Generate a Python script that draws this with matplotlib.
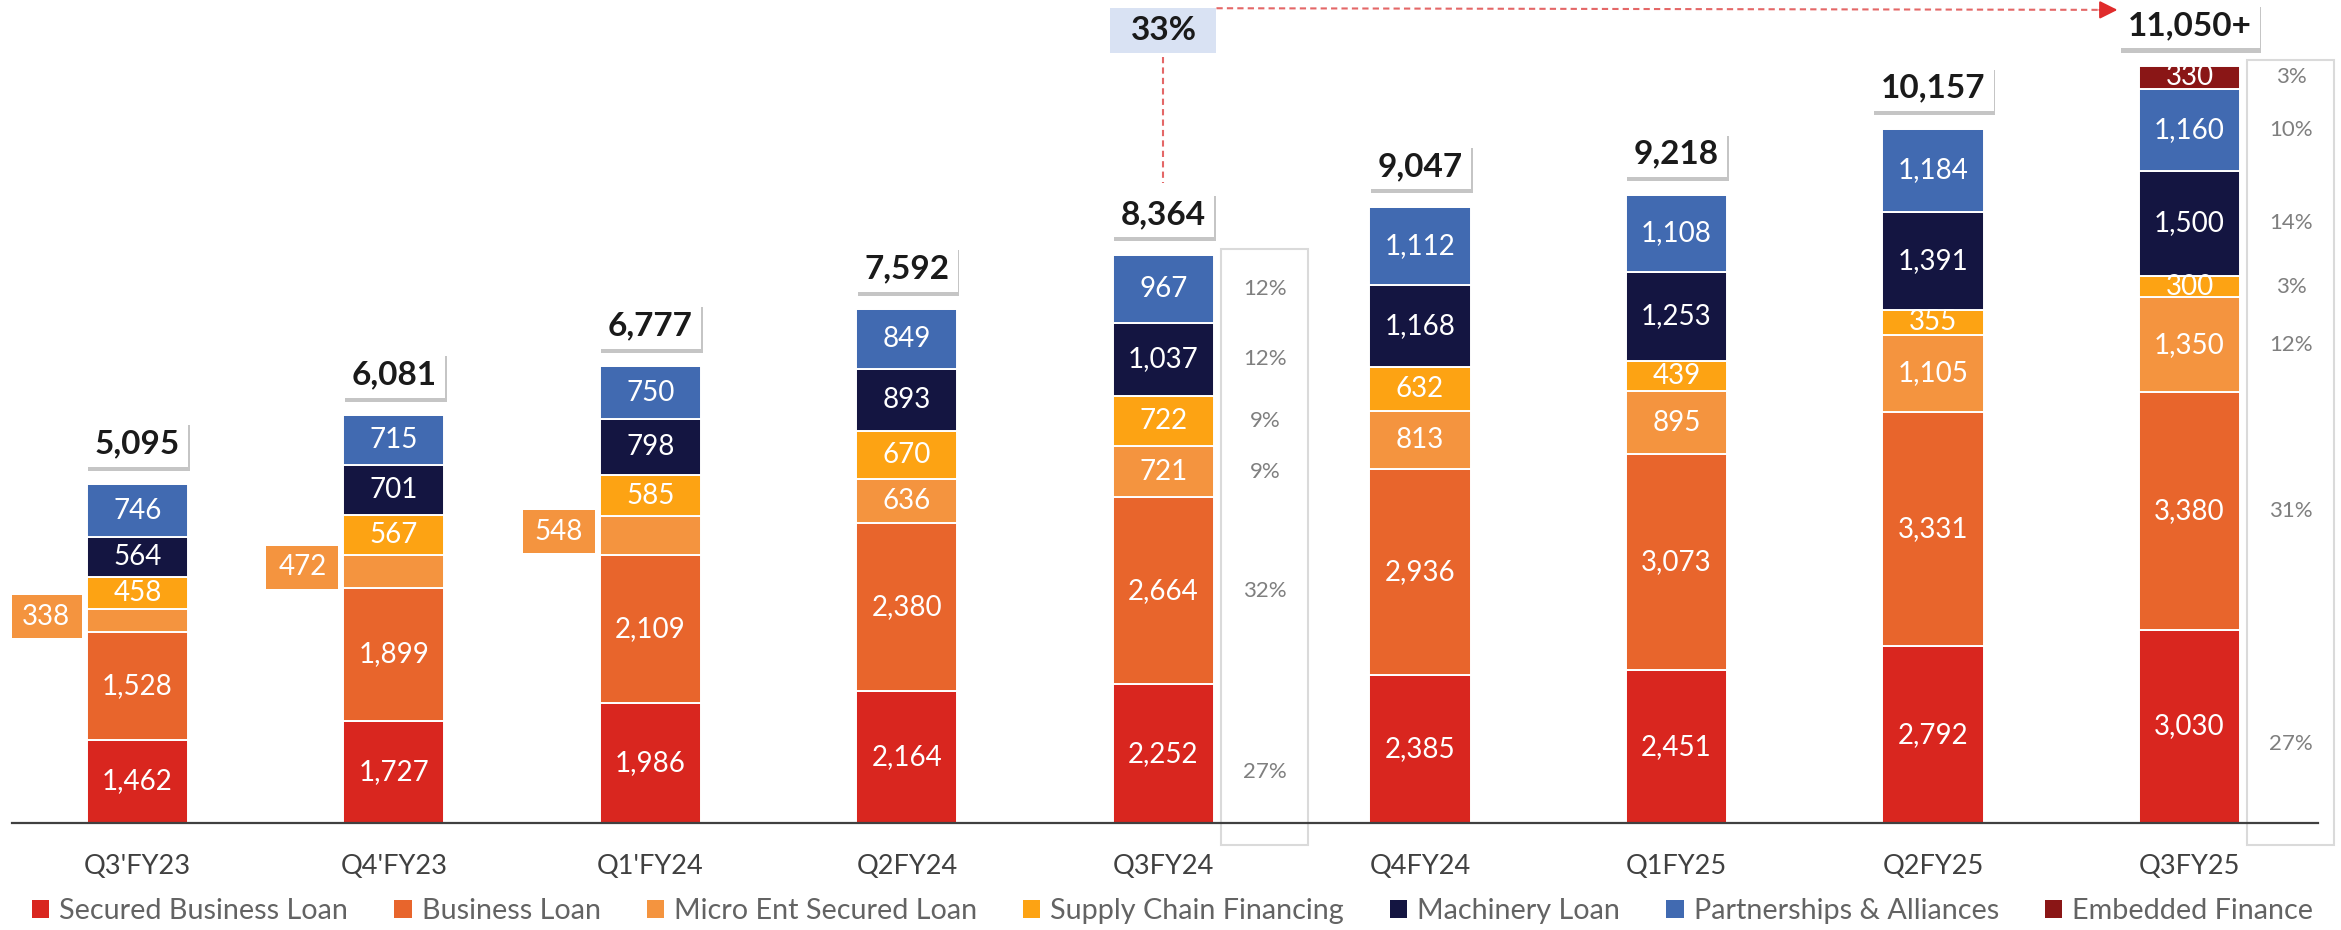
import matplotlib
matplotlib.use("Agg")
import matplotlib.pyplot as plt
import numpy as np
from matplotlib.patches import Rectangle, Patch
from matplotlib import patheffects as pe
from matplotlib.transforms import blended_transform_factory

plt.rcParams['font.family'] = ['Lato', 'DejaVu Sans']

# ---------------- data ----------------
quarters = ["Q3'FY23", "Q4'FY23", "Q1'FY24", "Q2FY24", "Q3FY24",
            "Q4FY24", "Q1FY25", "Q2FY25", "Q3FY25"]
secured_business_loan = [1462, 1727, 1986, 2164, 2252, 2385, 2451, 2792, 3030]
business_loan = [1528, 1899, 2109, 2380, 2664, 2936, 3073, 3331, 3380]
micro_ent_secured_loan = [338, 472, 548, 636, 721, 813, 895, 1105, 1350]
supply_chain_financing = [458, 567, 585, 670, 722, 632, 439, 355, 300]
machinery_loan = [564, 701, 798, 893, 1037, 1168, 1253, 1391, 1500]
partnerships_alliances = [746, 715, 750, 849, 967, 1112, 1108, 1184, 1160]
embedded_finance = [0, 0, 0, 0, 0, 0, 0, 0, 330]
total_labels = ["5,095", "6,081", "6,777", "7,592", "8,364", "9,047",
                "9,218", "10,157", "11,050+"]
series_names = ["Secured Business Loan", "Business Loan", "Micro Ent Secured Loan",
                "Supply Chain Financing", "Machinery Loan",
                "Partnerships & Alliances", "Embedded Finance"]
# share of book (%) shown beside Q3FY24 and Q3FY25 bars
pct_q3fy24 = [27, 32, 9, 9, 12, 12, None]
pct_q3fy25 = [27, 31, 12, 3, 14, 10, 3]
growth_label = "33%"
growth_from, growth_to = "Q3FY24", "Q3FY25"
# micro labels drawn outside the bar (small segments)
micro_outside = [True, True, True, False, False, False, False, False, False]

# ---------------- style ----------------
series_colors = ["#D9261F", "#E8652C", "#F4943F", "#FDA313",
                 "#141541", "#416AB1", "#8A1616"]
W, H = 2341, 930
PX_X = 256.5      # pixels per category
PX_Y = 0.0703     # pixels per unit
YLO, YHI = 280, 11987
BW = 0.394

fig = plt.figure(figsize=(W / 100, H / 100), dpi=100)
ax = fig.add_axes([12 / W, 107 / H, 2306 / W, 823 / H])
ax.set_xlim(-0.489, 8.501)
ax.set_ylim(YLO, YHI)
trans = blended_transform_factory(ax.transData, ax.transAxes)

series = [secured_business_loan, business_loan, micro_ent_secured_loan,
          supply_chain_financing, machinery_loan, partnerships_alliances,
          embedded_finance]
x = np.arange(len(quarters))
bottom = np.zeros(len(quarters))
bottoms = []
for s_idx, (name, vals, col) in enumerate(zip(series_names, series, series_colors)):
    vals = np.array(vals, dtype=float)
    bottoms.append(bottom.copy())
    ax.bar(x, vals, BW, bottom=bottom, color=col, edgecolor='white',
           linewidth=1.4, zorder=2)
    for i, (v, b) in enumerate(zip(vals, bottom)):
        if v <= 0:
            continue
        if s_idx == 2 and micro_outside[i]:
            bw = 72 / PX_X
            bh = 43 / PX_Y
            cx = i - BW / 2 - 5 / PX_X - bw / 2
            cy = b + v / 2 + 4 / PX_Y
            ax.add_patch(Rectangle((cx - bw / 2, cy - bh / 2), bw, bh,
                                   facecolor=col, edgecolor='none', zorder=3))
            ax.text(cx, cy, f"{int(v):,}", ha='center', va='center',
                    color='white', fontsize=20, zorder=4)
        else:
            yc = (max(b, YLO) + b + v) / 2
            ax.text(i, yc, f"{int(v):,}", ha='center', va='center',
                    color='white', fontsize=20, zorder=4)
    bottom += vals
tops = bottom.copy()

# total boxes
for i, lab in enumerate(total_labels):
    t = ax.annotate(lab, xy=(i, tops[i]), xytext=(0, 29),
                    textcoords='offset points', ha='center', va='center',
                    fontsize=24, fontweight='bold', color='#1A1A1A',
                    bbox=dict(boxstyle='square,pad=0.25', fc='white', ec='none'),
                    zorder=6, annotation_clip=False)
    t.get_bbox_patch().set_path_effects([
        pe.withSimplePatchShadow(offset=(1.2, -3), shadow_rgbFace='#7F7F7F', alpha=0.45),
        pe.Normal()])

# percentage boxes
for idx, pcts in ((quarters.index("Q3FY24"), pct_q3fy24),
                  (quarters.index("Q3FY25"), pct_q3fy25)):
    x0 = idx + 58 / PX_X
    x1 = idx + 145 / PX_X
    y0 = YLO - 22 / PX_Y
    y1 = tops[idx] + 6 / PX_Y
    ax.add_patch(Rectangle((x0, y0), x1 - x0, y1 - y0, facecolor='none',
                           edgecolor='#DADADA', linewidth=1.5, zorder=1,
                           clip_on=False))
    for s_idx, p in enumerate(pcts):
        if p is None:
            continue
        v = series[s_idx][idx]
        yc = bottoms[s_idx][idx] + v / 2
        if s_idx == 0:
            yc -= 8 / PX_Y
        ax.text((x0 + x1) / 2, yc, f"{p}%", ha='center', va='center',
                fontsize=16, color='#7F7F7F', zorder=4)

# growth annotation
gi = quarters.index(growth_from)
gj = quarters.index(growth_to)
gw = 106 / PX_X
ax.add_patch(Rectangle((gi - gw / 2, 0.9356), gw, 0.0547, transform=trans,
                       facecolor='#D9E2F3', edgecolor='none', clip_on=False, zorder=5))
ax.text(gi, (0.9356 + 0.990) / 2, growth_label, transform=trans, ha='center',
        va='center', fontsize=24, fontweight='bold', color='#1A1A1A', zorder=6)
red = '#E46767'
ax.plot([gi, gi], [0.9307, 0.7776], transform=trans, color=red, lw=1.5,
        ls=(0, (3, 2)), clip_on=False, zorder=5)
ax.plot([gi + gw / 2, gj - 78 / PX_X], [0.990, 0.988], transform=trans,
        color=red, lw=1.5, ls=(0, (3, 2)), clip_on=False, zorder=5)
ax.annotate('', xy=(gj - 72 / PX_X, 0.988), xytext=(gj - 90 / PX_X, 0.988),
            xycoords=trans, textcoords=trans,
            arrowprops=dict(arrowstyle='-|>,head_length=0.4,head_width=0.2',
                            mutation_scale=27, color='#E02B2B', lw=1.5,
                            shrinkA=0, shrinkB=0),
            annotation_clip=False, zorder=6)

# axes styling
for sp in ('left', 'right', 'top'):
    ax.spines[sp].set_visible(False)
ax.spines['bottom'].set_color('#404040')
ax.spines['bottom'].set_linewidth(1.6)
ax.set_yticks([])
ax.set_xticks(x)
ax.set_xticklabels(quarters)
ax.tick_params(axis='x', length=0, pad=22, labelsize=19.5, labelcolor='#404040')

handles = [Patch(facecolor=c, edgecolor='none') for c in series_colors]
fig.legend(handles, series_names, loc='center', bbox_to_anchor=(0.5009, 19 / H),
           ncol=7, frameon=False, fontsize=20.7, handlelength=0.6,
           handleheight=0.6, handletextpad=0.35, columnspacing=1.6,
           labelcolor='#636363')

fig.savefig('out.png', dpi=100)
